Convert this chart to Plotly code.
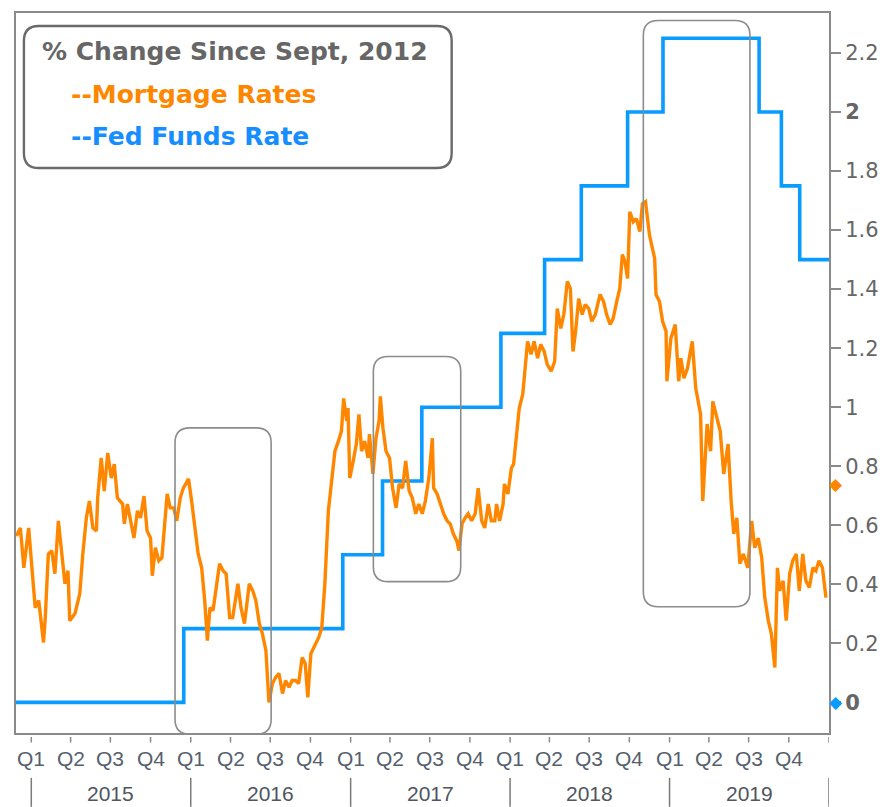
import datetime as dt
import plotly.graph_objects as go

# ---------------- data ----------------
BASE = dt.date(2015, 1, 1)
# mortgage-rate series: days since 2015-01-01 and % change since Sept 2012
mortgage_days = [
    -34, -25, -17, -6, 2, 9, 17, 28, 32, 39, 47, 54, 62, 69, 77, 84, 88, 100, 111, 118,
    126, 133, 141, 149, 152, 160, 167, 175, 183, 190, 197, 209, 213, 220, 228, 235, 243, 250, 258, 265,
    273, 277, 284, 292, 299, 303, 311, 318, 326, 333, 341, 348, 360,
    367, 375, 382, 390, 397, 403, 409, 416, 424, 431, 439, 446, 454, 461, 473, 480, 488, 499, 507, 514,
    522, 529, 537, 544, 552, 559, 567, 575, 582, 590, 597, 605, 612, 620, 627, 633, 640, 650, 658, 665,
    672, 680,
    688, 695, 703, 710, 715, 722, 725, 729, 737, 744, 750, 756, 763, 771, 774, 782, 789, 796, 799, 805,
    812, 820, 827, 835, 842, 850, 857, 865, 872, 880, 887, 895, 902, 910, 918, 921, 929, 936, 944, 952,
    959, 966, 974, 979, 986, 993, 1000, 1008, 1016, 1023, 1031, 1038, 1046, 1053, 1061, 1065, 1072, 1080,
    1083, 1091, 1099, 1104,
    1110, 1117, 1125, 1130, 1136, 1144, 1151, 1159, 1166, 1174, 1181, 1190, 1198, 1204, 1212, 1219, 1227,
    1234, 1240, 1246, 1253, 1261, 1268, 1276, 1283, 1291, 1302, 1310, 1317, 1325, 1332, 1340, 1347, 1353,
    1359, 1365, 1370, 1378, 1385, 1393, 1399, 1406,
    1415, 1427, 1430, 1438, 1445, 1453, 1455, 1464, 1474, 1482, 1487, 1494, 1502, 1513, 1521, 1532, 1537,
    1547, 1555, 1560, 1570, 1577, 1585, 1595, 1602, 1608, 1615, 1622, 1630, 1640, 1649, 1656, 1664,
    1672, 1679, 1687, 1694, 1702, 1708, 1713, 1721, 1728, 1736, 1743, 1751, 1758, 1766, 1773, 1781, 1789,
    1796, 1803, 1811, 1819,
]
mortgage_values = [
    0.564, 0.591, 0.456, 0.591, 0.446, 0.321, 0.345, 0.203, 0.287, 0.503, 0.514, 0.436, 0.615, 0.524, 0.402,
    0.446, 0.277, 0.301, 0.368, 0.503, 0.625, 0.682, 0.591, 0.581, 0.693, 0.828, 0.716, 0.845, 0.760, 0.807,
    0.693, 0.672, 0.605, 0.672, 0.615, 0.557, 0.649, 0.625, 0.699, 0.581, 0.557, 0.429, 0.524, 0.480, 0.490,
    0.557, 0.706, 0.659, 0.659, 0.615, 0.693, 0.726, 0.757,
    0.682, 0.591, 0.503, 0.456, 0.345, 0.209, 0.321, 0.311, 0.389, 0.470, 0.446, 0.436, 0.287, 0.287, 0.402,
    0.321, 0.267, 0.402, 0.378, 0.345, 0.267, 0.233, 0.176, 0.000, 0.064, 0.084, 0.098, 0.030, 0.074, 0.051,
    0.074, 0.074, 0.064, 0.152, 0.132, 0.017, 0.166, 0.199, 0.220, 0.253, 0.402, 0.649,
    0.760, 0.851, 0.885, 0.919, 1.030, 0.953, 0.997, 0.760, 0.818, 0.875, 0.976, 0.851, 0.885, 0.828, 0.909,
    0.774, 0.895, 0.953, 1.037, 0.929, 0.851, 0.828, 0.726, 0.659, 0.740, 0.726, 0.818, 0.716, 0.693, 0.639,
    0.672, 0.639, 0.682, 0.760, 0.895, 0.726, 0.706, 0.672, 0.639, 0.615, 0.605, 0.571, 0.547, 0.514, 0.605,
    0.625, 0.639, 0.615, 0.639, 0.726, 0.615, 0.591, 0.672, 0.615, 0.615, 0.672, 0.615, 0.672, 0.740, 0.706,
    0.794, 0.807,
    0.909, 0.997, 1.044, 1.132, 1.223, 1.179, 1.223, 1.166, 1.213, 1.189, 1.145, 1.122, 1.155, 1.334, 1.267,
    1.314, 1.426, 1.402, 1.189, 1.257, 1.368, 1.314, 1.348, 1.334, 1.291, 1.314, 1.382, 1.358, 1.314, 1.280,
    1.301, 1.358, 1.402, 1.517, 1.493, 1.436, 1.662, 1.628, 1.639, 1.595, 1.689, 1.696,
    1.584, 1.503, 1.382, 1.358, 1.291, 1.257, 1.088, 1.233, 1.280, 1.088, 1.166, 1.098, 1.132, 1.223, 1.064,
    0.976, 0.682, 0.943, 0.851, 1.020, 0.953, 0.919, 0.774, 0.875, 0.682, 0.571, 0.625, 0.470, 0.503, 0.456,
    0.615, 0.524, 0.557,
    0.490, 0.355, 0.277, 0.233, 0.118, 0.456, 0.378, 0.412, 0.277, 0.436, 0.480, 0.503, 0.378, 0.503, 0.412,
    0.389, 0.456, 0.446, 0.480, 0.456, 0.355,
]

fed_dates = ["2014-11-27", "2015-12-16", "2016-12-14", "2017-03-15", "2017-06-13", "2017-12-11",
             "2018-03-21", "2018-06-13", "2018-09-27", "2018-12-17", "2019-07-25", "2019-09-14",
             "2019-10-26", "2020-01-01"]
fed_values = [0.0, 0.25, 0.5, 0.75, 1.0, 1.25, 1.5, 1.75, 2.0, 2.25, 2.0, 1.75, 1.5, 1.5]

# highlighted periods (rounded boxes)
box_starts = ["2015-11-26", "2017-02-22", "2018-11-02"]
box_ends = ["2016-07-03", "2017-09-10", "2019-07-04"]
box_tops = [0.93, 1.172, 2.31]
box_bottoms = [-0.108, 0.409, 0.324]

# last-value markers on the right axis
marker_values = [0.74, 0.0]

years = [2015, 2016, 2017, 2018, 2019]
quarter_labels = ["Q1", "Q2", "Q3", "Q4"]
quarter_months = [1, 4, 7, 10]
y_ticks = [0, 0.2, 0.4, 0.6, 0.8, 1, 1.2, 1.4, 1.6, 1.8, 2, 2.2]
y_ticktext = ["<b>0</b>", "0.2", "0.4", "0.6", "0.8", "1", "1.2", "1.4", "1.6", "1.8", "<b>2</b>", "2.2"]

title_text = "% Change Since Sept, 2012"
legend_mortgage = "--Mortgage Rates"
legend_fed = "--Fed Funds Rate"

# ---------------- styling ----------------
ORANGE = "#FF8700"
BLUE = "#0A9BFF"
BLUE_TXT = "#168EFF"
FRAME = "#8a8a8a"
W, H = 890, 807
ML, MR, MT, MB = 16, 52, 11, 74
PW, PH = W - ML - MR, H - MT - MB
X0, X1 = dt.date(2014, 11, 27), dt.date(2020, 1, 1)
Y0, Y1 = -0.1037, 2.3355


def xfrac(d):
    if isinstance(d, str):
        d = dt.date.fromisoformat(d)
    return (d - X0).days / (X1 - X0).days


def yfrac(v):
    return (v - Y0) / (Y1 - Y0)


def rounded_path(x0, x1, y0, y1, r_px):
    rx, ry = r_px / PW, r_px / PH
    return (f"M {x0+rx},{y1} L {x1-rx},{y1} Q {x1},{y1} {x1},{y1-ry} "
            f"L {x1},{y0+ry} Q {x1},{y0} {x1-rx},{y0} L {x0+rx},{y0} "
            f"Q {x0},{y0} {x0},{y0+ry} L {x0},{y1-ry} Q {x0},{y1} {x0+rx},{y1} Z")


def px_x(px):
    return (px - ML) / PW


def px_y(py):
    return (H - MB - py) / PH


mortgage_dates = [BASE + dt.timedelta(days=d) for d in mortgage_days]

fig = go.Figure()
fig.add_trace(go.Scatter(x=fed_dates, y=fed_values, mode="lines", line=dict(color=BLUE, width=3.6, shape="hv"),
                         name="Fed Funds Rate", showlegend=False))
fig.add_trace(go.Scatter(x=mortgage_dates, y=mortgage_values, mode="lines",
                         line=dict(color=ORANGE, width=3.4), name="Mortgage Rates", showlegend=False))

shapes = []
for s, e, t, b in zip(box_starts, box_ends, box_tops, box_bottoms):
    shapes.append(dict(type="path", xref="paper", yref="paper",
                       path=rounded_path(xfrac(s), xfrac(e), yfrac(b), yfrac(t), 15),
                       line=dict(color="#8c8c8c", width=1.6), layer="above"))

# legend box
shapes.append(dict(type="path", xref="paper", yref="paper",
                   path=rounded_path(px_x(24), px_x(456.5), px_y(166.5), px_y(24), 15),
                   line=dict(color="#6a6a6a", width=2.4), fillcolor="rgba(255,255,255,0)"))

annotations = []
# quarter ticks and labels
tick_dates = [dt.date(y, m, 1) for y in years for m in quarter_months] + [dt.date(2020, 1, 1)]
for d in tick_dates:
    shapes.append(dict(type="line", xref="x", yref="paper", x0=d, x1=d, y0=px_y(737), y1=px_y(742.5),
                       line=dict(color=FRAME, width=1.5)))
for y in years:
    for q, m in zip(quarter_labels, quarter_months):
        annotations.append(dict(x=dt.date(y, m, 1), y=px_y(759), xref="x", yref="paper", text=q,
                                showarrow=False, xanchor="center", yanchor="middle",
                                font=dict(family="Liberation Sans, Arial", size=21, color="#55606e")))
    annotations.append(dict(x=dt.date(y, 7, 2), y=px_y(794), xref="x", yref="paper", text=str(y),
                            showarrow=False, xanchor="center", yanchor="middle",
                            font=dict(family="Liberation Sans, Arial", size=21, color="#50555e")))
for y in years + [2020]:
    shapes.append(dict(type="line", xref="x", yref="paper", x0=dt.date(y, 1, 1), x1=dt.date(y, 1, 1),
                       y0=px_y(778), y1=px_y(807), line=dict(color="#7a7a7a", width=1.5)))

# legend texts
annotations.append(dict(x=px_x(40), y=px_y(50), xref="paper", yref="paper", text=f"<b>{title_text}</b>",
                        showarrow=False, xanchor="left", yanchor="middle",
                        font=dict(family="DejaVu Sans", size=25, color="#666666")))
annotations.append(dict(x=px_x(70), y=px_y(93), xref="paper", yref="paper", text=f"<b>{legend_mortgage}</b>",
                        showarrow=False, xanchor="left", yanchor="middle",
                        font=dict(family="DejaVu Sans", size=25, color=ORANGE)))
annotations.append(dict(x=px_x(70), y=px_y(135), xref="paper", yref="paper", text=f"<b>{legend_fed}</b>",
                        showarrow=False, xanchor="left", yanchor="middle",
                        font=dict(family="DejaVu Sans", size=25, color=BLUE_TXT)))

# last-value diamonds
for v, c in zip(marker_values, [ORANGE, BLUE]):
    annotations.append(dict(x=px_x(845), y=v, xref="paper", yref="y", text="◆", showarrow=False,
                            xanchor="center", yanchor="middle",
                            font=dict(family="DejaVu Sans", size=17, color=c)))

fig.update_layout(
    width=W, height=H, margin=dict(l=ML, r=MR, t=MT, b=MB, pad=0),
    paper_bgcolor="white", plot_bgcolor="white",
    shapes=shapes, annotations=annotations, showlegend=False,
    xaxis=dict(type="date", range=[X0, X1], showgrid=False, zeroline=False, showticklabels=False,
               ticks="", showline=True, mirror=True, linecolor=FRAME, linewidth=2),
    yaxis=dict(range=[Y0, Y1], side="right", showgrid=False, zeroline=False, tickvals=y_ticks,
               ticktext=y_ticktext, ticks="outside", ticklen=10, tickwidth=2, tickcolor=FRAME,
               showline=True, mirror=True, linecolor=FRAME, linewidth=2,
               tickfont=dict(family="DejaVu Sans", size=21, color="#666666")),
)

fig.write_html("out.html", config={"displayModeBar": False},
               post_script="document.body.style.margin='0';document.body.style.overflow='hidden';")
